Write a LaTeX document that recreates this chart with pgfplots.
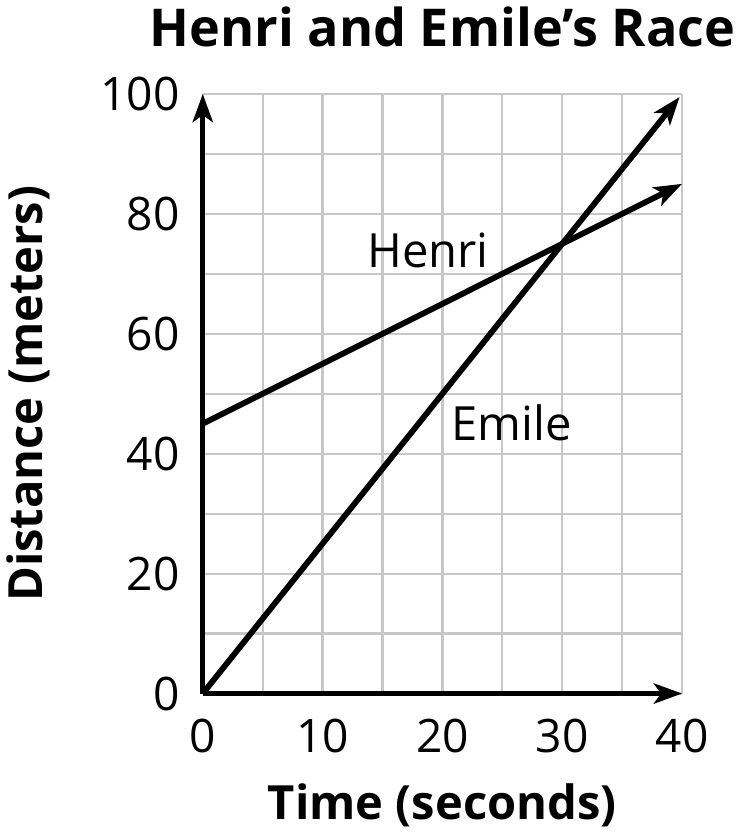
\documentclass[border=0pt]{standalone}
\usepackage{pgfplots}
\pgfplotsset{compat=1.18}
\usepackage{fontspec}
\setmainfont{Open Sans}
\usetikzlibrary{arrows.meta}
\begin{document}
\begin{tikzpicture}
\begin{axis}[
  scale only axis,
  width=239pt, height=299pt,
  xmin=0, xmax=40, ymin=0, ymax=100,
  axis lines=left,
  axis line style={line width=2.6pt, -{Stealth[length=14pt,width=10pt,inset=3.5pt]}},
  xtick={0,10,20,30,40},
  ytick={0,20,40,60,80,100},
  minor xtick={5,15,25,35},
  minor ytick={10,30,50,70,90},
  grid=both,
  major grid style={line width=1.1pt, color=black!22},
  minor grid style={line width=1.1pt, color=black!22},
  major tick length=0pt, minor tick length=0pt,
  tick label style={font=\fontsize{23}{26}\selectfont},
  /pgf/number format/assume math mode=true,
  xticklabel style={yshift=-9pt},
  yticklabel style={xshift=-8pt},
  title={\bfseries Henri and Emile’s Race},
  title style={font=\fontsize{26}{30}\selectfont, at={(axis description cs:0.5,1.092)}, anchor=center},
  xlabel={\bfseries Time (seconds)},
  ylabel={\bfseries Distance (meters)},
  label style={font=\fontsize{23.5}{27}\selectfont},
  xlabel style={at={(axis description cs:0.5,-0.187)}, anchor=center},
  ylabel style={at={(axis description cs:-0.364,0.5)}, anchor=center},
  clip=false,
]
\addplot[line width=2.9pt, -{Stealth[length=14pt,width=10pt,inset=3.5pt]}] coordinates {(0,45) (40,85)};
\addplot[line width=2.9pt, -{Stealth[length=14pt,width=10pt,inset=3.5pt]}] coordinates {(0,0) (39.8,99.5)};
\node[font=\fontsize{23.5}{27}\selectfont] at (axis cs:18.8,73.9) {Henri};
\node[font=\fontsize{23.5}{27}\selectfont] at (axis cs:25.75,45.2) {Emile};
\end{axis}
\end{tikzpicture}
\end{document}
